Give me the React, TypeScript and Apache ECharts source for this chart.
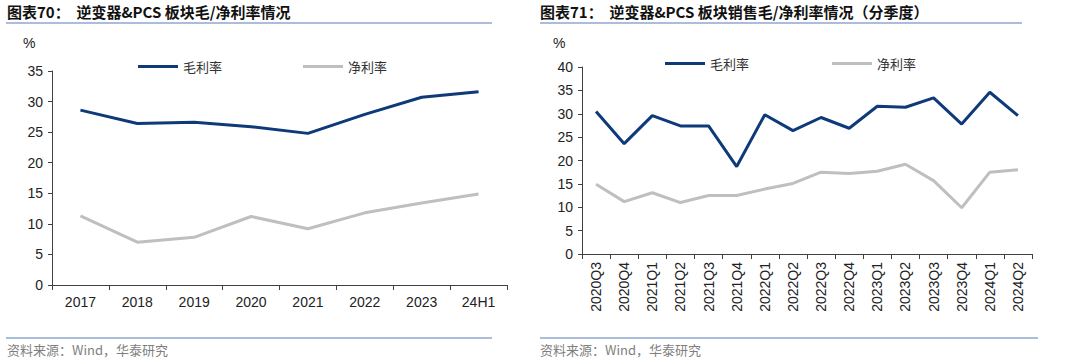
import React, { useEffect, useRef } from "react";
import * as echarts from "echarts";

const yearCats = ["2017", "2018", "2019", "2020", "2021", "2022", "2023", "24H1"];
const yearGross = [28.6, 26.4, 26.6, 25.9, 24.8, 27.9, 30.7, 31.6];
const yearNet = [11.3, 7.0, 7.8, 11.2, 9.2, 11.8, 13.4, 14.9];

const qCats = [
  "2020Q3", "2020Q4", "2021Q1", "2021Q2", "2021Q3", "2021Q4", "2022Q1", "2022Q2",
  "2022Q3", "2022Q4", "2023Q1", "2023Q2", "2023Q3", "2023Q4", "2024Q1", "2024Q2",
];
const qGross = [30.5, 23.6, 29.6, 27.4, 27.4, 18.7, 29.8, 26.4, 29.2, 26.9, 31.6, 31.4, 33.4, 27.8, 34.6, 29.6];
const qNet = [14.9, 11.2, 13.1, 11.0, 12.5, 12.5, 13.9, 15.1, 17.5, 17.2, 17.7, 19.2, 15.7, 9.9, 17.5, 18.0];

const NAVY = "#0E3A7A";
const GRAY = "#BFBFBF";
const AXIS = "#404040";
const LINE_BLUE = "#8EA9D0";
const LATIN = "Arial, 'Liberation Sans', sans-serif";
const CJK = "'Noto Sans CJK SC', sans-serif";

export default function App() {
  const ref = useRef<HTMLDivElement>(null);
  useEffect(() => {
    if (!ref.current) return;
    const chart = echarts.init(ref.current, undefined, { renderer: "svg" });
    const axisLabel = { color: "#222", fontSize: 14, fontFamily: LATIN };
    const yAxisBase = {
      type: "value" as const,
      min: 0,
      interval: 5,
      splitLine: { show: false },
      axisLine: { show: true, lineStyle: { color: AXIS, width: 1 } },
      axisTick: { show: true, length: 4, lineStyle: { color: AXIS } },
      axisLabel: { ...axisLabel, margin: 9 },
    };
    const xAxisBase = {
      type: "category" as const,
      boundaryGap: true,
      axisLine: { show: true, lineStyle: { color: AXIS, width: 1 } },
      axisTick: { show: true, length: 5, interval: 0, lineStyle: { color: AXIS } },
    };
    const lineSeries = (name: string, xi: number, data: number[], color: string) => ({
      name,
      type: "line" as const,
      xAxisIndex: xi,
      yAxisIndex: xi,
      data,
      symbol: "none",
      lineStyle: { color, width: 3 },
      itemStyle: { color },
    });
    const legendBase = {
      icon: "rect",
      itemWidth: 40,
      itemHeight: 3,
      itemGap: 81,
      textStyle: { color: "#333", fontSize: 13, fontFamily: CJK },
      data: ["毛利率", "净利率"],
    };
    chart.setOption({
      animation: false,
      backgroundColor: "#fff",
      legend: [
        { ...legendBase, left: 133, top: 55 },
        { ...legendBase, left: 660, top: 52, itemGap: 83 },
      ],
      grid: [
        { left: 52, top: 71, right: 573, bottom: 75, containLabel: false },
        { left: 582, top: 67, right: 48, bottom: 106, containLabel: false },
      ],
      xAxis: [
        {
          ...xAxisBase,
          gridIndex: 0,
          data: yearCats,
          axisLabel: { ...axisLabel, margin: 10, interval: 0 },
        },
        {
          ...xAxisBase,
          gridIndex: 1,
          data: qCats,
          axisLabel: { ...axisLabel, margin: 8, interval: 0, rotate: 90 },
        },
      ],
      yAxis: [
        { ...yAxisBase, gridIndex: 0, max: 35 },
        { ...yAxisBase, gridIndex: 1, max: 40 },
      ],
      series: [
        lineSeries("毛利率", 0, yearGross, NAVY),
        lineSeries("净利率", 0, yearNet, GRAY),
        lineSeries("毛利率", 1, qGross, NAVY),
        lineSeries("净利率", 1, qNet, GRAY),
      ],
      graphic: [
        {
          type: "text",
          left: 7,
          top: 4,
          style: {
            text: "图表70：  逆变器&PCS 板块毛/净利率情况",
            fontSize: 15,
            fontWeight: "bold",
            fontFamily: CJK,
            fill: "#111",
          },
        },
        {
          type: "text",
          left: 540,
          top: 4,
          style: {
            text: "图表71：  逆变器&PCS 板块销售毛/净利率情况（分季度）",
            fontSize: 15,
            fontWeight: "bold",
            fontFamily: CJK,
            fill: "#111",
          },
        },
        { type: "line", shape: { x1: 6, y1: 23, x2: 492, y2: 23 }, style: { stroke: LINE_BLUE, lineWidth: 1.5 } },
        { type: "line", shape: { x1: 540, y1: 23, x2: 1022, y2: 23 }, style: { stroke: LINE_BLUE, lineWidth: 1.5 } },
        { type: "line", shape: { x1: 6, y1: 338, x2: 492, y2: 338 }, style: { stroke: LINE_BLUE, lineWidth: 1.5 } },
        { type: "line", shape: { x1: 540, y1: 338, x2: 1038, y2: 338 }, style: { stroke: LINE_BLUE, lineWidth: 1.5 } },
        {
          type: "text",
          left: 23,
          top: 36,
          style: { text: "%", fontSize: 14, fontFamily: LATIN, fill: "#222" },
        },
        {
          type: "text",
          left: 553,
          top: 36,
          style: { text: "%", fontSize: 14, fontFamily: LATIN, fill: "#222" },
        },
        {
          type: "text",
          left: 7,
          top: 343,
          style: { text: "资料来源：Wind，华泰研究", fontSize: 13, fontFamily: CJK, fill: "#7F7F7F" },
        },
        {
          type: "text",
          left: 540,
          top: 343,
          style: { text: "资料来源：Wind，华泰研究", fontSize: 13, fontFamily: CJK, fill: "#7F7F7F" },
        },
      ],
    });
    return () => chart.dispose();
  }, []);
  return (
    <div
      ref={ref}
      style={{ position: "fixed", left: 0, top: 0, width: 1080, height: 360, background: "#fff" }}
    />
  );
}
